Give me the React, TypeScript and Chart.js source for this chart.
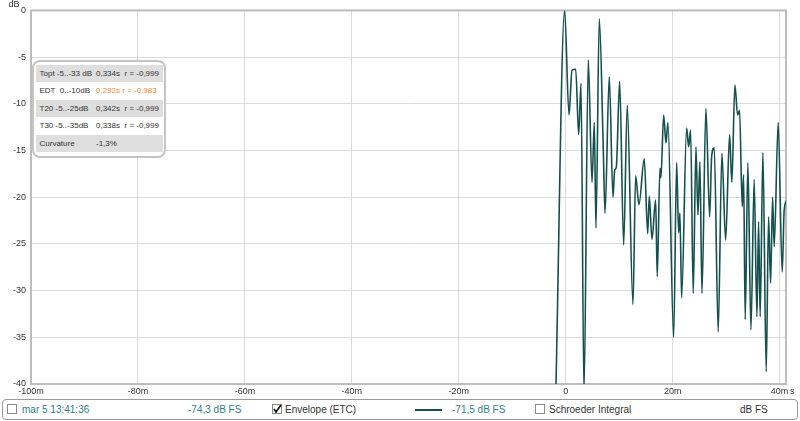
import React, { useEffect, useRef } from 'react';
import { Chart, registerables } from 'chart.js';

Chart.register(...registerables);

// Time axis (ms) and envelope (ETC) level in dB
const timeMs = [-1.85, -0.2, 0.62, 1.18, 1.87, 2.43, 2.86, 3.42, 4.22, 4.92, 5.35, 5.66, 6.28, 7.03, 7.35, 8.15, 8.84, 9.16, 9.46, 10.09, 10.84, 11.51, 12.58, 13.08, 13.70, 14.69, 15.33, 15.63, 16.13, 16.82, 17.12, 17.63, 17.81, 18.32, 18.75, 19.12, 20.19, 20.75, 21.12, 21.36, 21.68, 22.62, 22.99, 23.36, 23.85, 24.36, 24.73, 25.10, 25.48, 26.22, 26.92, 27.29, 27.78, 28.52, 29.21, 29.91, 30.65, 31.07, 31.64, 32.15, 32.52, 33.01, 33.27, 33.57, 34.07, 34.64, 35.25, 35.76, 36.07, 36.37, 36.88, 37.50, 37.94, 38.32, 38.69, 38.99, 39.74, 40.49, 40.86, 41.36];
const etcDb = [-41, 0, -11.2, -6.4, -6.3, -13.3, -7.8, -41, -5.3, -18.4, -12.0, -23.3, -0.9, -14.9, -21.7, -7.1, -20.0, -17.1, -16.8, -7.6, -25.1, -10.2, -31.5, -17.7, -20.8, -15.9, -23.9, -19.9, -24.5, -20.3, -28.5, -16.9, -17.9, -11.2, -14.2, -12.0, -35.0, -16.3, -23.8, -21.7, -30.8, -12.6, -14.6, -12.8, -30.3, -14.6, -21.9, -16.2, -30.3, -10.5, -22.1, -15.7, -14.7, -34.4, -15.3, -24.6, -13.3, -18.4, -8.0, -11.2, -10.7, -21.0, -17.6, -33.1, -16.3, -34.2, -18.1, -32.8, -22.6, -32.8, -15.2, -38.7, -22.1, -29.2, -20.0, -25.3, -12.0, -28.0, -21.4, -20.3];

const xTickValues = [-100, -80, -60, -40, -20, 0, 20, 40];
const yTickValues = [0, -5, -10, -15, -20, -25, -30, -35, -40];
const X_MIN = -100;
const X_MAX = 41.2;
const Y_MIN = -40;
const Y_MAX = 0;

const infoRows = [
  { label: 'Topt -5..-33 dB', value: '0,334s', r: 'r = -0,999', shaded: true, orange: false },
  { label: 'EDT  0..-10dB', value: '0,292s r = -0,983', r: '', shaded: false, orange: true },
  { label: 'T20 -5..-25dB', value: '0,342s', r: 'r = -0,999', shaded: true, orange: false },
  { label: 'T30 -5..-35dB', value: '0,338s', r: 'r = -0,999', shaded: false, orange: false },
  { label: 'Curvature', value: '-1,3%', r: '', shaded: true, orange: false },
];

const FONT = '"Liberation Sans", Arial, sans-serif';
const TRACE = '#14504e';
const TEAL = '#2e808a';

const decor = {
  id: 'decor',
  beforeDatasetsDraw(chart: any) {
    const { ctx, chartArea: a } = chart;
    ctx.save();
    ctx.strokeStyle = '#bdbdbd';
    ctx.lineWidth = 2;
    ctx.strokeRect(a.left, a.top, a.right - a.left, a.bottom - a.top);
    ctx.restore();
  },
  afterDraw(chart: any) {
    const { ctx, chartArea: a } = chart;
    ctx.save();
    ctx.font = '9px ' + FONT;
    ctx.fillStyle = '#333';
    ctx.textBaseline = 'middle';
    ctx.textAlign = 'center';
    ctx.fillText('dB', 14, 4.5);
    ctx.textAlign = 'left';
    ctx.fillText('s', a.right + 4, a.bottom + 8);
    ctx.restore();
  },
};

function Check({ left, checked }: { left: number; checked: boolean }) {
  return (
    <div style={{ position: 'absolute', left, top: 404, width: 10, height: 10, border: '1px solid #8a8a8a', background: '#fff', boxSizing: 'border-box' }}>
      {checked && (
        <svg width="10" height="10" style={{ position: 'absolute', left: -1, top: -1 }}>
          <polyline points="2,5 4,8 9,1" fill="none" stroke="#111" strokeWidth="1.6" />
        </svg>
      )}
    </div>
  );
}

export default function App() {
  const ref = useRef<HTMLCanvasElement>(null);
  useEffect(() => {
    if (!ref.current) return;
    const chart = new Chart(ref.current, {
      type: 'line',
      data: {
        datasets: [
          {
            data: timeMs.map((t, i) => ({ x: t, y: etcDb[i] })),
            borderColor: TRACE,
            borderWidth: 1.6,
            pointRadius: 0,
            fill: false,
            cubicInterpolationMode: 'monotone',
            clip: 0,
          } as any,
        ],
      },
      options: {
        animation: false,
        responsive: false,
        maintainAspectRatio: false,
        layout: { padding: { top: 10, right: 14, left: 0, bottom: 0 } },
        plugins: { legend: { display: false }, tooltip: { enabled: false } },
        scales: {
          x: {
            type: 'linear',
            min: X_MIN,
            max: X_MAX,
            afterBuildTicks: (s: any) => { s.ticks = xTickValues.map((v) => ({ value: v })); },
            afterFit: (s: any) => { s.height = 14; },
            grid: { color: '#dcdcdc', drawTicks: false },
            border: { display: false },
            ticks: {
              padding: 2,
              maxRotation: 0,
              autoSkip: false,
              color: '#333',
              font: { family: FONT, size: 9 },
              callback: (v: any) => (v === 0 ? '0' : v + 'm'),
            },
          },
          y: {
            type: 'linear',
            min: Y_MIN,
            max: Y_MAX,
            afterBuildTicks: (s: any) => { s.ticks = yTickValues.map((v) => ({ value: v })); },
            afterFit: (s: any) => { s.width = 31; },
            grid: { color: '#dcdcdc', drawTicks: false },
            border: { display: false },
            ticks: {
              padding: 5,
              color: '#333',
              font: { family: FONT, size: 9 },
              callback: (v: any) => String(v),
            },
          },
        },
      },
      plugins: [decor],
    });
    return () => chart.destroy();
  }, []);

  const txt = (left: number, text: string, color: string, extra: any = {}) => (
    <span style={{ position: 'absolute', left, top: 403, fontSize: 10, lineHeight: '14px', color, whiteSpace: 'pre', ...extra }}>{text}</span>
  );

  return (
    <div style={{ position: 'fixed', left: 0, top: 0, width: 800, height: 421, background: '#fff', fontFamily: FONT, overflow: 'hidden' }}>
      <canvas ref={ref} width={800} height={398} style={{ position: 'absolute', left: 0, top: 0, width: 800, height: 398 }} />

      {/* statistics box */}
      <div style={{ position: 'absolute', left: 32, top: 60, width: 134, height: 98, border: '2px solid #c4c4c4', borderRadius: 8, background: '#fff', boxSizing: 'border-box' }} />
      {infoRows.map((row, i) => (
        <div key={i} style={{ position: 'absolute', left: 36, top: 65 + i * 17.4, width: 127, height: 17.4, background: row.shaded ? '#dedede' : '#fff', fontSize: 8, lineHeight: '17.4px', color: '#333' }}>
          <span style={{ position: 'absolute', left: 3.5, whiteSpace: 'pre' }}>{row.label}</span>
          <span style={{ position: 'absolute', left: 60, whiteSpace: 'pre', color: row.orange ? '#f0882c' : '#333' }}>{row.value}</span>
          {row.r && <span style={{ position: 'absolute', left: 88.5, whiteSpace: 'pre' }}>{row.r}</span>}
        </div>
      ))}

      {/* bottom legend bar */}
      <div style={{ position: 'absolute', left: 2, top: 399, width: 796, height: 21, border: '1px solid #9a9a9a', borderRadius: 4, boxSizing: 'border-box' }} />
      <Check left={7} checked={false} />
      {txt(22, 'mar 5 13:41:36', TEAL)}
      {txt(188, '-74,3 dB FS', TEAL)}
      <Check left={272} checked={true} />
      {txt(285, 'Envelope (ETC)', '#333')}
      <div style={{ position: 'absolute', left: 415, top: 409, width: 27, height: 2, background: TRACE }} />
      {txt(452, '-71,5 dB FS', TEAL)}
      <Check left={535} checked={false} />
      {txt(549, 'Schroeder Integral', '#333')}
      {txt(740, 'dB FS', '#333')}
    </div>
  );
}
